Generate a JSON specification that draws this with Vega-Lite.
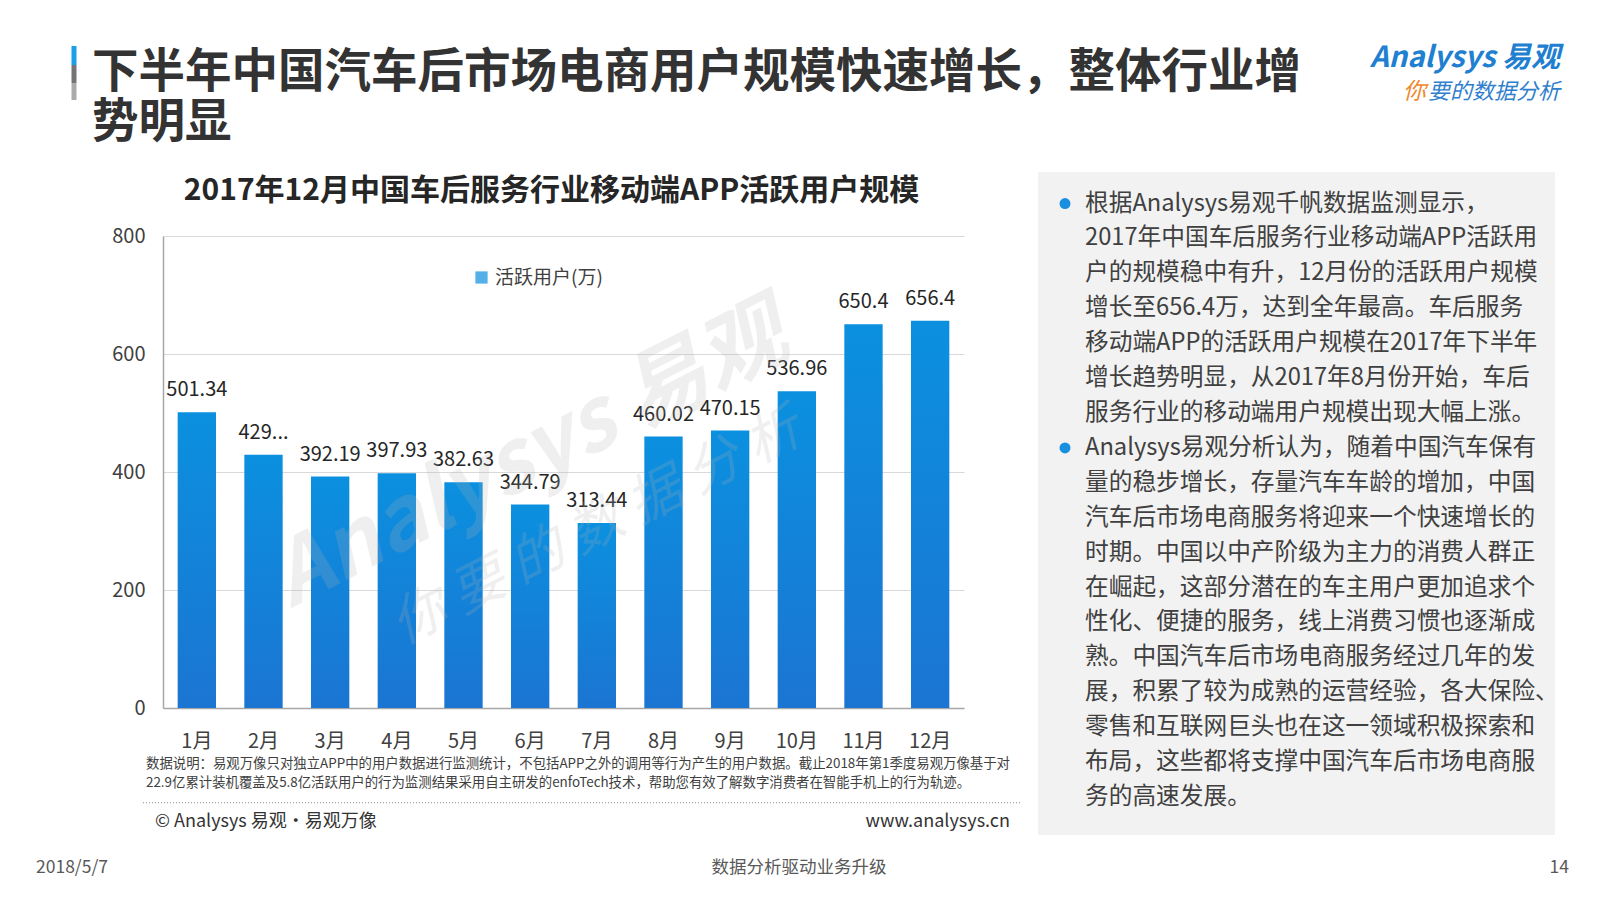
{
  "$schema": "https://vega.github.io/schema/vega-lite/v6.json",
  "background": "white",
  "padding": {"left": 36, "top": 43, "right": 0, "bottom": 20},
  "config": {
    "font": "Noto Sans CJK SC",
    "view": {"stroke": null},
    "axis": {"labelFont": "Noto Sans CJK SC"},
    "legend": {"labelFont": "Noto Sans CJK SC"}
  },
  "spacing": 24,
  "vconcat": [
    {
      "width": 1397,
      "height": 100,
      "data": {"values": [
        {"line": 1, "text": "下半年中国汽车后市场电商用户规模快速增长，整体行业增"},
        {"line": 2, "text": "势明显"}
      ]},
      "layer": [
        {
          "mark": {"type": "text", "align": "left", "baseline": "middle", "fontSize": 46.5, "fontWeight": "bold", "color": "#333333", "dx": -71},
          "encoding": {
            "y": {"field": "line", "type": "ordinal", "axis": null},
            "x": {"datum": 0, "type": "quantitative", "scale": {"domain": [0, 1], "nice": false}, "axis": null},
            "text": {"field": "text"}
          }
        },
        {
          "data": {"values": [{"line": 1, "seg": "blue"}]},
          "mark": {"type": "rule", "color": "#1aa0e6", "strokeWidth": 5, "xOffset": -89, "yOffset": -27, "y2Offset": -8},
          "encoding": {
            "x": {"datum": 0, "type": "quantitative"},
            "y": {"field": "line", "type": "ordinal"},
            "y2": {"field": "line"}
          }
        },
        {
          "data": {"values": [{"line": 1, "seg": "dark"}]},
          "mark": {"type": "rule", "color": "#757575", "strokeWidth": 5, "xOffset": -89, "yOffset": -8, "y2Offset": 10},
          "encoding": {
            "x": {"datum": 0, "type": "quantitative"},
            "y": {"field": "line", "type": "ordinal"},
            "y2": {"field": "line"}
          }
        },
        {
          "data": {"values": [{"line": 1, "seg": "light"}]},
          "mark": {"type": "rule", "color": "#ababab", "strokeWidth": 5, "xOffset": -89, "yOffset": 10, "y2Offset": 27},
          "encoding": {
            "x": {"datum": 0, "type": "quantitative"},
            "y": {"field": "line", "type": "ordinal"},
            "y2": {"field": "line"}
          }
        },
        {
          "data": {"values": [{"line": 1, "logo": "Analysys 易观"}]},
          "mark": {"type": "text", "align": "right", "baseline": "middle", "fontSize": 29, "fontStyle": "italic", "fontWeight": "bold", "color": "#1f7fd0", "dy": -15},
          "encoding": {
            "y": {"field": "line", "type": "ordinal"},
            "x": {"datum": 1, "type": "quantitative"},
            "text": {"field": "logo"}
          }
        },
        {
          "data": {"values": [{"line": 2, "logo": "要的数据分析"}]},
          "mark": {"type": "text", "align": "right", "baseline": "middle", "fontSize": 22, "fontStyle": "italic", "color": "#2f7fcc", "dy": -31},
          "encoding": {
            "y": {"field": "line", "type": "ordinal"},
            "x": {"datum": 1, "type": "quantitative"},
            "text": {"field": "logo"}
          }
        },
        {
          "data": {"values": [{"line": 2, "logo": "你"}]},
          "mark": {"type": "text", "align": "right", "baseline": "middle", "fontSize": 23, "fontStyle": "italic", "color": "#ef8a2c", "dy": -31, "dx": -134},
          "encoding": {
            "y": {"field": "line", "type": "ordinal"},
            "x": {"datum": 1, "type": "quantitative"},
            "text": {"field": "logo"}
          }
        }
      ]
    },
    {
      "spacing": 17,
      "hconcat": [
        {
          "spacing": 16,
          "vconcat": [
            {
              "width": 801,
              "height": 38,
              "data": {"values": [{"title": "2017年12月中国车后服务行业移动端APP活跃用户规模"}]},
              "mark": {"type": "text", "align": "center", "baseline": "middle", "fontSize": 30, "fontWeight": "bold", "color": "#262626", "dx": -12},
              "encoding": {
                "x": {"datum": 0.5, "type": "quantitative", "scale": {"domain": [0, 1], "nice": false}, "axis": null},
                "text": {"field": "title"}
              }
            },
            {
              "spacing": 3,
              "vconcat": [
                {
                  "width": 801,
                  "height": 472,
                  "data": {"values": [
                    {"month": "1月", "value": 501.34, "label": "501.34"},
                    {"month": "2月", "value": 429.3, "label": "429..."},
                    {"month": "3月", "value": 392.19, "label": "392.19"},
                    {"month": "4月", "value": 397.93, "label": "397.93"},
                    {"month": "5月", "value": 382.63, "label": "382.63"},
                    {"month": "6月", "value": 344.79, "label": "344.79"},
                    {"month": "7月", "value": 313.44, "label": "313.44"},
                    {"month": "8月", "value": 460.02, "label": "460.02"},
                    {"month": "9月", "value": 470.15, "label": "470.15"},
                    {"month": "10月", "value": 536.96, "label": "536.96"},
                    {"month": "11月", "value": 650.4, "label": "650.4"},
                    {"month": "12月", "value": 656.4, "label": "656.4"}
                  ]},
                  "layer": [
                    {
                      "mark": {"type": "bar", "color": {"gradient": "linear", "x1": 0, "y1": 0, "x2": 0, "y2": 1, "stops": [{"offset": 0, "color": "#0b90df"}, {"offset": 1, "color": "#1b75d2"}]}},
                      "encoding": {
                        "x": {"field": "month", "type": "ordinal", "sort": null,
                          "scale": {"paddingInner": 0.425, "paddingOuter": 0.22},
                          "axis": {"title": null, "labelAngle": 0, "labelFontSize": 20, "labelColor": "#404040", "labelPadding": 23, "ticks": false, "domainColor": "#a6a6a6", "domainWidth": 1.5}},
                        "y": {"field": "value", "type": "quantitative",
                          "scale": {"domain": [0, 800], "nice": false},
                          "axis": {"title": null, "values": [0, 200, 400, 600, 800], "labelFontSize": 20, "labelColor": "#404040", "labelPadding": 18, "ticks": false, "domainColor": "#a6a6a6", "domainWidth": 1.5, "gridColor": "#d9d9d9"}}
                      }
                    },
                    {
                      "mark": {"type": "text", "baseline": "middle", "fontSize": 20, "color": "#262626", "dy": -22},
                      "encoding": {
                        "x": {"field": "month", "type": "ordinal", "sort": null},
                        "y": {"field": "value", "type": "quantitative"},
                        "text": {"field": "label"}
                      }
                    },
                    {
                      "data": {"values": [{"wm": "Analysys 易观"}]},
                      "mark": {"type": "text", "baseline": "middle", "fontSize": 86, "fontStyle": "italic", "fontWeight": "bold", "color": "#b4b4b4", "opacity": 0.2, "angle": -27},
                      "encoding": {
                        "x": {"datum": "6月", "type": "ordinal"},
                        "y": {"datum": 425, "type": "quantitative"},
                        "text": {"field": "wm"}
                      }
                    },
                    {
                      "data": {"values": [{"wm": "你 要 的 数 据 分 析"}]},
                      "mark": {"type": "text", "baseline": "middle", "fontSize": 54, "fontStyle": "italic", "color": "#b4b4b4", "opacity": 0.2, "angle": -27},
                      "encoding": {
                        "x": {"datum": "7月", "type": "ordinal"},
                        "y": {"datum": 305, "type": "quantitative"},
                        "text": {"field": "wm"}
                      }
                    },
                    {
                      "data": {"values": []},
                      "mark": {"type": "square"},
                      "encoding": {
                        "color": {"datum": "活跃用户(万)", "type": "nominal",
                          "scale": {"domain": ["活跃用户(万)"], "range": ["#0b8edd"]},
                          "legend": {"title": null, "orient": "none", "legendX": 309, "legendY": 220, "padding": 0, "labelFontSize": 19, "labelColor": "#404040", "symbolType": "square", "symbolSize": 150, "symbolStrokeWidth": 0, "labelOffset": 4}}
                      }
                    }
                  ]
                },
                {
                  "width": 801,
                  "height": 78,
                  "encoding": {
                    "y": {"field": "row", "type": "ordinal", "scale": {"domain": ["n1", "n2", "sep", "c"]}, "axis": null}
                  },
                  "layer": [
                    {
                      "data": {"values": [
                        {"row": "n1", "text": "数据说明：易观万像只对独立APP中的用户数据进行监测统计，不包括APP之外的调用等行为产生的用户数据。截止2018年第1季度易观万像基于对"},
                        {"row": "n2", "text": "22.9亿累计装机覆盖及5.8亿活跃用户的行为监测结果采用自主研发的enfoTech技术，帮助您有效了解数字消费者在智能手机上的行为轨迹。"}
                      ]},
                      "mark": {"type": "text", "align": "left", "baseline": "middle", "fontSize": 13.4, "color": "#404040", "dx": -17},
                      "encoding": {
                        "x": {"datum": 0, "type": "quantitative", "scale": {"domain": [0, 1], "nice": false}, "axis": null},
                        "text": {"field": "text"}
                      }
                    },
                    {
                      "data": {"values": [{"row": "sep"}]},
                      "mark": {"type": "rule", "color": "#8c8c8c", "strokeDash": [1, 2], "strokeWidth": 1, "xOffset": -20, "x2Offset": 56},
                      "encoding": {
                        "x": {"datum": 0, "type": "quantitative"},
                        "x2": {"datum": 1}
                      }
                    },
                    {
                      "data": {"values": [{"row": "c", "text": "© Analysys 易观·易观万像"}]},
                      "mark": {"type": "text", "align": "left", "baseline": "middle", "fontSize": 18, "color": "#333333", "dx": -8},
                      "encoding": {
                        "x": {"datum": 0, "type": "quantitative"},
                        "text": {"field": "text"}
                      }
                    },
                    {
                      "data": {"values": [{"row": "c", "text": "www.analysys.cn"}]},
                      "mark": {"type": "text", "align": "right", "baseline": "middle", "fontSize": 18, "color": "#333333", "dx": 46},
                      "encoding": {
                        "x": {"datum": 1, "type": "quantitative"},
                        "text": {"field": "text"}
                      }
                    }
                  ]
                }
              ]
            }
          ]
        },
        {
          "width": 517,
          "height": 663,
          "view": {"fill": "#f2f2f2", "stroke": null},
          "data": {"values": [
            {"line": 1, "text": "根据Analysys易观千帆数据监测显示，", "bullet": true},
            {"line": 2, "text": "2017年中国车后服务行业移动端APP活跃用", "bullet": false},
            {"line": 3, "text": "户的规模稳中有升，12月份的活跃用户规模", "bullet": false},
            {"line": 4, "text": "增长至656.4万，达到全年最高。车后服务", "bullet": false},
            {"line": 5, "text": "移动端APP的活跃用户规模在2017年下半年", "bullet": false},
            {"line": 6, "text": "增长趋势明显，从2017年8月份开始，车后", "bullet": false},
            {"line": 7, "text": "服务行业的移动端用户规模出现大幅上涨。", "bullet": false},
            {"line": 8, "text": "Analysys易观分析认为，随着中国汽车保有", "bullet": true},
            {"line": 9, "text": "量的稳步增长，存量汽车车龄的增加，中国", "bullet": false},
            {"line": 10, "text": "汽车后市场电商服务将迎来一个快速增长的", "bullet": false},
            {"line": 11, "text": "时期。中国以中产阶级为主力的消费人群正", "bullet": false},
            {"line": 12, "text": "在崛起，这部分潜在的车主用户更加追求个", "bullet": false},
            {"line": 13, "text": "性化、便捷的服务，线上消费习惯也逐渐成", "bullet": false},
            {"line": 14, "text": "熟。中国汽车后市场电商服务经过几年的发", "bullet": false},
            {"line": 15, "text": "展，积累了较为成熟的运营经验，各大保险、", "bullet": false},
            {"line": 16, "text": "零售和互联网巨头也在这一领域积极探索和", "bullet": false},
            {"line": 17, "text": "布局，这些都将支撑中国汽车后市场电商服", "bullet": false},
            {"line": 18, "text": "务的高速发展。", "bullet": false}
          ]},
          "encoding": {
            "y": {"field": "line", "type": "quantitative", "scale": {"domain": [0.095, 19.09], "reverse": true, "nice": false, "zero": false}, "axis": null},
            "x": {"datum": 0, "type": "quantitative", "scale": {"domain": [0, 1], "nice": false}, "axis": null}
          },
          "layer": [
            {
              "mark": {"type": "text", "align": "left", "baseline": "middle", "fontSize": 23.7, "color": "#404040", "dx": 47},
              "encoding": {"text": {"field": "text"}}
            },
            {
              "transform": [{"filter": "datum.bullet"}],
              "mark": {"type": "point", "filled": true, "shape": "circle", "size": 120, "color": "#1a8fe0", "opacity": 1, "xOffset": 27}
            }
          ]
        }
      ]
    },
    {
      "width": 1406,
      "height": 2,
      "data": {"values": [
        {"pos": "left", "text": "2018/5/7"},
        {"pos": "center", "text": "数据分析驱动业务升级"},
        {"pos": "right", "text": "14"}
      ]},
      "layer": [
        {
          "transform": [{"filter": "datum.pos === 'left'"}],
          "mark": {"type": "text", "align": "left", "baseline": "middle", "fontSize": 17.5, "color": "#595959", "dx": -127, "dy": 3},
          "encoding": {
            "x": {"datum": 0, "type": "quantitative", "scale": {"domain": [0, 1], "nice": false}, "axis": null},
            "text": {"field": "text"}
          }
        },
        {
          "transform": [{"filter": "datum.pos === 'center'"}],
          "mark": {"type": "text", "align": "center", "baseline": "middle", "fontSize": 17.5, "color": "#595959", "dx": -67, "dy": 3},
          "encoding": {
            "x": {"datum": 0.5, "type": "quantitative"},
            "text": {"field": "text"}
          }
        },
        {
          "transform": [{"filter": "datum.pos === 'right'"}],
          "mark": {"type": "text", "align": "right", "baseline": "middle", "fontSize": 17.5, "color": "#595959", "dy": 3},
          "encoding": {
            "x": {"datum": 1, "type": "quantitative"},
            "text": {"field": "text"}
          }
        }
      ]
    }
  ]
}
